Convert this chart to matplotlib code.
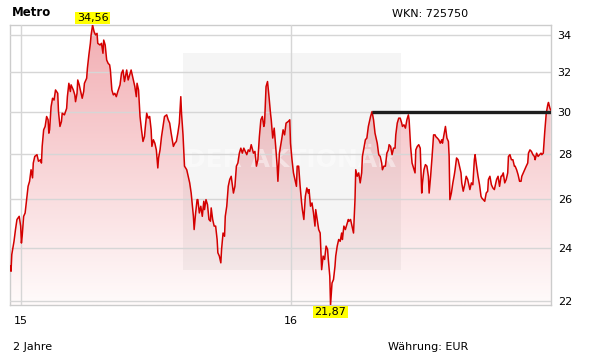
import numpy as np
import pandas as pd
import matplotlib
matplotlib.use('Agg')
import matplotlib.pyplot as plt
from matplotlib.ticker import NullLocator, FixedLocator
from matplotlib.patches import Rectangle

# days since 2015-01-01
days = [
    -14, -13, -12, -9, -7, -5, -2, 0, 1, 2,
    4, 6, 8, 10, 12, 14, 16, 17, 19, 22,
    24, 27, 28, 29, 31, 33, 35, 37, 38, 39,
    41, 43, 45, 47, 50, 51, 53, 55, 56, 59,
    62, 63, 65, 67, 68, 71, 73, 74, 76, 77,
    79, 81, 83, 85, 86, 89, 90, 92, 94, 95,
    97, 99, 101, 103, 104, 107, 109, 111, 112, 114,
    116, 118, 120, 121, 123, 125, 127, 129, 131, 134,
    136, 138, 140, 143, 145, 147, 149, 152, 154, 156,
    157, 159, 161, 163, 165, 167, 168, 170, 172, 174,
    176, 177, 179, 181, 183, 185, 186, 188, 190, 192,
    194, 197, 199, 201, 203, 206, 208, 210, 212, 214,
    216, 217, 219, 221, 224, 226, 228, 230, 233, 234,
    236, 238, 239, 241, 243, 245, 247, 248, 250, 252,
    254, 256, 257, 259, 261, 263, 265, 266, 268, 270,
    271, 273, 275, 276, 278, 280, 282, 284, 287, 289,
    291, 293, 295, 297, 299, 301, 303, 305, 307, 309,
    311, 314, 316, 318, 320, 322, 324, 326, 328, 329,
    331, 333, 335, 337, 338, 340, 342, 344, 346, 347,
    349, 352, 354, 356, 358, 361, 363, 364, 366, 368,
    370, 372, 373, 375, 377, 379, 380, 382, 384, 386,
    388, 389, 391, 393, 395, 397, 398, 400, 402, 404,
    405, 406, 408, 410, 412, 414, 415, 417, 418, 420,
    422, 424, 425, 427, 429, 431, 433, 434, 436, 438,
    440, 442, 443, 445, 447, 449, 451, 452, 454, 456,
    458, 460, 461, 463, 465, 467, 469, 470, 472, 474,
    476, 478, 479, 481, 483, 485, 487, 488, 490, 492,
    494, 496, 497, 499, 501, 503, 505, 506, 508, 510,
    512, 514, 515, 517, 519, 521, 523, 524, 526, 528,
    530, 532, 533, 535, 537, 539, 541, 542, 544, 546,
    548, 550, 551, 553, 555, 557, 559, 560, 562, 564,
    566, 568, 569, 571, 573, 575, 577, 578, 579, 581,
    583, 585, 586, 588, 590, 592, 594, 595, 597, 599,
    601, 603, 604, 606, 608, 610, 612, 613, 615, 617,
    619, 621, 622, 624, 626, 628, 630, 631, 633, 635,
    637, 639, 640, 642, 644, 646, 648, 649, 651, 653,
    655, 657, 658, 660, 662, 664, 666, 667, 669, 671,
    673, 675, 676, 678, 680, 682, 684, 685, 687, 689,
    691, 693, 694, 696, 698, 700, 702, 703, 705, 707,
    709, 711, 712, 714, 715,
]

prices = [
    23.30, 23.11, 23.75, 24.27, 24.74, 25.15, 25.28, 24.88, 24.20, 24.47,
    25.28, 25.42, 25.98, 26.55, 26.77, 27.28, 26.92, 27.58, 27.88, 27.96,
    27.66, 27.73, 27.58, 28.34, 29.12, 29.28, 29.76, 29.60, 28.96, 29.12,
    30.24, 30.66, 30.57, 31.08, 30.91, 30.00, 29.28, 29.52, 29.92, 29.84,
    30.16, 30.74, 31.42, 31.00, 31.34, 31.08, 30.83, 30.49, 30.91, 31.59,
    31.34, 31.00, 30.66, 31.00, 31.42, 31.68, 32.20, 32.91, 33.54, 34.00,
    34.56, 34.19, 34.00, 34.09, 33.54, 33.45, 33.54, 33.00, 33.72, 33.45,
    32.64, 32.46, 32.38, 32.11, 31.08, 30.83, 30.91, 30.74, 31.00, 31.34,
    31.94, 32.11, 31.51, 32.11, 31.59, 31.85, 32.11, 31.59, 31.25, 30.74,
    31.42, 31.08, 29.76, 29.12, 28.57, 28.80, 29.20, 29.92, 29.68, 29.76,
    29.12, 28.34, 28.65, 28.49, 28.18, 27.36, 27.81, 28.18, 28.80, 29.28,
    29.76, 29.84, 29.60, 29.44, 28.96, 28.34, 28.49, 28.57, 28.96, 29.44,
    30.74, 29.92, 28.88, 27.44, 27.28, 26.99, 26.70, 26.26, 25.28, 24.74,
    25.42, 25.98, 25.98, 25.42, 25.70, 25.28, 25.91, 25.56, 25.98, 25.77,
    25.15, 25.08, 25.63, 25.15, 24.88, 24.88, 24.34, 23.82, 23.69, 23.43,
    23.95, 24.60, 24.47, 25.28, 25.70, 26.55, 26.85, 26.99, 26.26, 26.55,
    27.44, 27.58, 28.03, 28.26, 28.03, 28.26, 28.11, 27.96, 28.18, 28.11,
    28.42, 28.03, 28.11, 27.44, 27.73, 28.80, 29.60, 29.76, 29.28, 29.44,
    31.25, 31.51, 30.74, 29.92, 29.60, 28.73, 29.20, 28.34, 27.44, 26.77,
    28.03, 28.65, 29.12, 28.88, 29.44, 29.52, 29.60, 28.49, 27.73, 27.14,
    26.85, 26.55, 27.44, 27.44, 26.55, 25.84, 25.56, 25.15, 26.12, 26.48,
    26.26, 26.41, 25.70, 25.84, 25.42, 24.88, 25.56, 25.15, 24.74, 24.60,
    23.82, 23.17, 23.69, 23.56, 24.08, 23.95, 23.56, 22.92, 21.87, 22.67,
    22.80, 23.30, 23.69, 24.08, 24.34, 24.27, 24.60, 24.34, 24.88, 24.74,
    24.94, 25.15, 25.08, 25.15, 24.88, 24.60, 25.98, 27.28, 26.99, 27.14,
    26.70, 27.14, 27.88, 28.26, 28.65, 28.73, 29.28, 29.44, 29.76, 30.00,
    29.60, 28.96, 28.80, 28.49, 27.96, 27.88, 27.58, 27.28, 27.44, 27.44,
    28.03, 28.18, 28.42, 28.34, 27.96, 28.26, 28.26, 28.88, 29.44, 29.68,
    29.68, 29.44, 29.28, 29.36, 29.20, 29.60, 29.84, 29.60, 28.34, 27.58,
    27.36, 27.14, 28.18, 28.34, 28.42, 28.26, 26.26, 26.70, 27.28, 27.51,
    27.44, 26.99, 26.26, 26.99, 27.88, 28.88, 28.88, 28.80, 28.73, 28.65,
    28.49, 28.65, 28.49, 28.88, 29.28, 28.73, 28.57, 27.88, 25.98, 26.26,
    26.70, 27.06, 27.28, 27.81, 27.73, 27.44, 27.14, 26.70, 26.34, 26.62,
    26.99, 26.85, 26.70, 26.41, 26.70, 26.62, 27.73, 27.96, 27.44, 26.99,
    26.62, 26.12, 26.05, 25.98, 25.91, 26.26, 26.34, 26.85, 26.99, 26.62,
    26.48, 26.41, 26.55, 26.85, 26.99, 26.55, 26.99, 26.99, 27.14, 26.70,
    26.85, 27.14, 27.88, 27.96, 27.73, 27.73, 27.44, 27.44, 27.28, 27.06,
    26.77, 26.77, 26.99, 27.14, 27.28, 27.44, 27.58, 28.03, 28.18, 28.11,
    27.96, 27.88, 27.73, 28.03, 27.88, 27.96, 28.03, 27.96, 28.03, 29.04,
    29.92, 30.33, 30.45, 30.16, 30.08,
]

y_ticks = [22, 24, 26, 28, 30, 32, 34]
x_ticks = ['2015-01-01', '2016-01-01']
x_labels = ['15', '16']
resistance = 30.0
resistance_from = 474

base = pd.Timestamp('2015-01-01')
dates = (base + pd.to_timedelta(days, unit='D')).values
prices = np.array(prices)
lo, hi = prices.min(), prices.max()
i_hi, i_lo = prices.argmax(), prices.argmin()

fig = plt.figure(figsize=(6.11, 3.64), dpi=100)
ax = fig.add_axes([10.3 / 611, 1 - 305 / 364, 540.4 / 611, 280 / 364])
ax.set_yscale('log')
ax.set_xlim(dates[0], dates[-1])
ax.set_ylim(lo, hi)
ax.set_autoscale_on(False)

# gradient area under the line
g = np.linspace(0, 1, 256)[:, None, None]
top = np.array([242, 174, 179]) / 255
bot = np.array([255, 251, 251]) / 255
rgb = (1 - g) * top + g * bot
poly = ax.fill_between(dates, prices, lo, facecolor='none', edgecolor='none')
img = ax.imshow(rgb, extent=[0, 1, 0, 1], transform=ax.transAxes,
                aspect='auto', zorder=1, interpolation='bilinear')
img.set_clip_path(poly.get_paths()[0], poly.get_transform())

# watermark
ax.add_patch(Rectangle((0.3196, 0.125), 0.4034, 0.776, transform=ax.transAxes,
                       facecolor='black', alpha=0.04, edgecolor='none', zorder=1.2))
ax.text(0.518, 0.518, 'DER AKTIONÄR', transform=ax.transAxes, ha='center', va='center',
        fontsize=18, fontweight='bold', color='white', alpha=0.45, zorder=1.3)

ax.plot(dates, prices, color='#d40000', lw=1.1, zorder=3)
ax.plot([dates[days.index(resistance_from)], dates[-1]], [resistance, resistance],
        color='#1e1e1e', lw=2.4, zorder=4, solid_capstyle='butt')

ax.yaxis.set_major_locator(FixedLocator(y_ticks))
ax.yaxis.set_minor_locator(NullLocator())
ax.set_yticklabels([str(t) for t in y_ticks])
ax.yaxis.tick_right()
ax.set_xticks(pd.to_datetime(x_ticks).values)
ax.set_xticklabels(x_labels)
ax.xaxis.set_minor_locator(NullLocator())
ax.tick_params(axis='y', length=0, labelsize=8, pad=5)
ax.tick_params(axis='x', length=0, labelsize=8, pad=8)
ax.set_axisbelow(False)
ax.grid(True, color='#d6d6d6', lw=1)
for s in ax.spines.values():
    s.set_color('#cccccc')
    s.set_linewidth(1)

ax.annotate(f'{hi:.2f}'.replace('.', ','), xy=(dates[i_hi], hi), xytext=(0, 1.5),
            textcoords='offset points', ha='center', va='bottom', fontsize=8,
            bbox=dict(boxstyle='square,pad=0.12', fc='#ffff00', ec='none'), annotation_clip=False)
ax.annotate(f'{lo:.2f}'.replace('.', ','), xy=(dates[i_lo], lo), xytext=(0, -1.5),
            textcoords='offset points', ha='center', va='top', fontsize=8,
            bbox=dict(boxstyle='square,pad=0.12', fc='#ffff00', ec='none'), annotation_clip=False)

fig.text(12 / 611, 1 - 13 / 364, 'Metro', fontsize=8.5, fontweight='bold', va='center')
fig.text(392 / 611, 1 - 14 / 364, 'WKN: 725750', fontsize=8, va='center')
fig.text(12.7 / 611, 1 - 347 / 364, '2 Jahre', fontsize=8, va='center')
fig.text(388.3 / 611, 1 - 347.5 / 364, 'Währung: EUR', fontsize=8, va='center')

fig.savefig('out.png', dpi=100)
